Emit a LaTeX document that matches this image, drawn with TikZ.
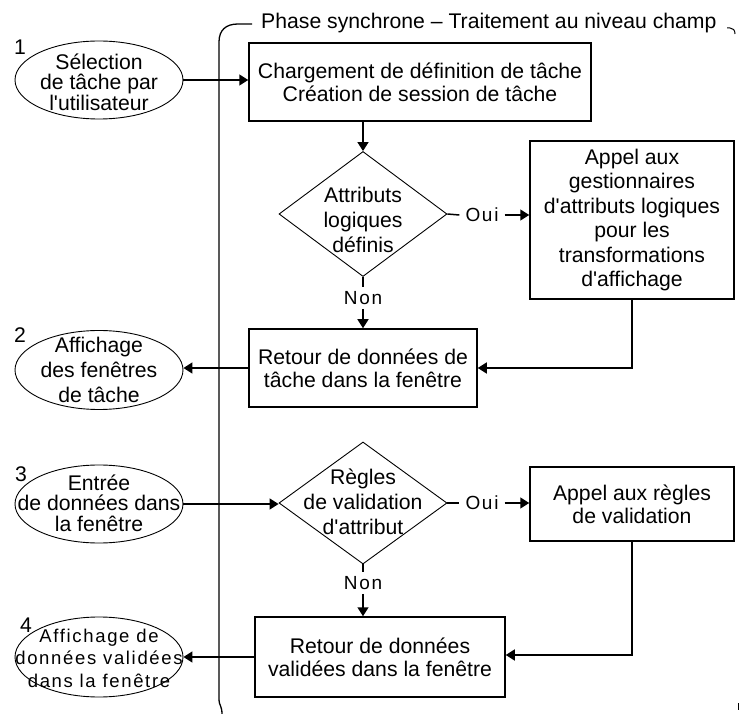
\documentclass[tikz,border=0pt]{standalone}
\usepackage{fontspec}
\setmainfont{Liberation Sans}[Ligatures=TeXOff]
\newfontfamily\trackedfont{Liberation Sans}[Ligatures=TeXOff,LetterSpace=9]
\usetikzlibrary{shapes.geometric,arrows.meta}
\newcommand\fsz[2]{\fontsize{#1}{#2}\selectfont}
\begin{document}
\begin{tikzpicture}[x=1pt,y=-1pt,
  box/.style={draw,line width=1.5pt,inner sep=0pt,align=center,font=\fsz{21.2}{23}},
  dia/.style={draw,diamond,line width=0.9pt,inner sep=0pt},
  ell/.style={draw,ellipse,line width=0.9pt,inner sep=0pt,minimum width=168pt},
  txt/.style={align=center,inner sep=0pt,font=\fsz{21.2}{23}},
  tight/.style={align=center,inner sep=0pt,font=\fsz{21.2}{20.5}},
  loose/.style={align=center,inner sep=0pt,font=\fsz{21.2}{25}},
  spaced/.style={align=center,inner sep=0pt,font=\trackedfont\fsz{18.5}{22.5}},
  num/.style={inner sep=0pt,font=\fsz{21.2}{23}},
  yn/.style={inner xsep=6pt,inner ysep=4pt,font=\trackedfont\fsz{19}{19}},
  link/.style={line width=1.5pt},
  arr/.style={line width=1.5pt,-{Triangle[length=9pt,width=11pt]}},
  frame/.style={line width=1.3pt}
]
\useasboundingbox (0,0) rectangle (740,714);

% swim-lane bracket for the synchronous phase
\node[num,anchor=base west] (phase) at (261,29) {Phase synchrone – Traitement au niveau champ};
\coordinate (laneTop) at (219,42);
\coordinate (laneBot) at (219,700);
\draw[frame] (laneBot) -- (laneTop) .. controls (219,30) and (226,24) .. (238,24) -- (252,24);
\draw[frame] (laneBot) .. controls (219,705) and (222,706) .. (222,714);
\draw[line width=1pt] (727,28) -- (730,28) .. controls (733,28) and (735,30) .. (735,34);
\draw[line width=1pt] (738,703) -- (738,710);

% user-side events
\node[ell,minimum height=78pt,label={[tight,yshift=-2pt]center:{Sélection\\de tâche par\\l'utilisateur}}] (e1) at (99,80) {};
\node[ell,minimum height=79pt,label={[loose]center:{Affichage\\des fenêtres\\de tâche}}] (e2) at (99,370) {};
\node[ell,minimum height=78pt,label={[tight,yshift=1pt]center:{Entrée\\de données dans\\la fenêtre}}] (e3) at (99,504) {};
\node[ell,minimum height=80pt,label={[spaced,yshift=-1pt]center:{Affichage de\\données validées\\dans la fenêtre}}] (e4) at (99,657) {};

\node[num] (n1) at (20,47) {1};
\node[num] (n2) at (20,335) {2};
\node[num] (n3) at (21,474) {3};
\node[num] (n4) at (26,625) {4};

% processing steps
\node[box,minimum width=342pt,minimum height=78pt] (b1) at (420,82) {Chargement de définition de tâche\\Création de session de tâche};
\node[dia,minimum width=168pt,minimum height=125pt,label={[loose,yshift=-6pt]center:{Attributs\\logiques\\définis}}] (d1) at (363,214) {};
\node[box,minimum width=204pt,minimum height=158pt,font=\fsz{21.2}{24.5}] (b3) at (632,220) {Appel aux\\gestionnaires\\d'attributs logiques\\pour les\\transformations\\d'affichage};
\node[box,minimum width=228pt,minimum height=78pt] (b2) at (363,368) {Retour de données de\\tâche dans la fenêtre};

\node[dia,minimum width=168pt,minimum height=122pt,label={[loose,yshift=1pt]center:{Règles\\de validation\\d'attribut}}] (d2) at (363,503) {};
\node[box,minimum width=204pt,minimum height=74pt] (b4) at (632,504) {Appel aux règles\\de validation};
\node[box,minimum width=250pt,minimum height=80pt] (b5) at (380,657) {Retour de données\\validées dans la fenêtre};

% branch labels
\node[yn] (oui1) at (482,215) {Oui};
\node[yn] (non1) at (363,298) {Non};
\node[yn] (oui2) at (482,503) {Oui};
\node[yn] (non2) at (363,583) {Non};

% connectors
\draw[arr] (e1.east) -- (e1.east -| b1.west);
\draw[arr] (d1.north |- b1.south) -- (d1.north);
\draw[link] (d1.east) -- (oui1.west);
\draw[arr] (oui1.east) -- (oui1.east -| b3.west);
\draw[link] (d1.south) -- (non1.north);
\draw[arr] (non1.south) -- (b2.north -| non1.south);
\draw[arr] (b3.south) |- (b2.east);
\draw[arr] (b2.west) -- (b2.west -| e2.east);

\draw[arr] (e3.east) -- (e3.east -| d2.west);
\draw[link] (d2.east) -- (oui2.west);
\draw[arr] (oui2.east) -- (oui2.east -| b4.west);
\draw[link] (d2.south) -- (non2.north);
\draw[arr] (non2.south) -- (b5.north -| non2.south);
\draw[arr] (b4.south) |- ([yshift=2pt]b5.east);
\draw[arr] (b5.west) -- (b5.west -| e4.east);
\end{tikzpicture}
\end{document}
